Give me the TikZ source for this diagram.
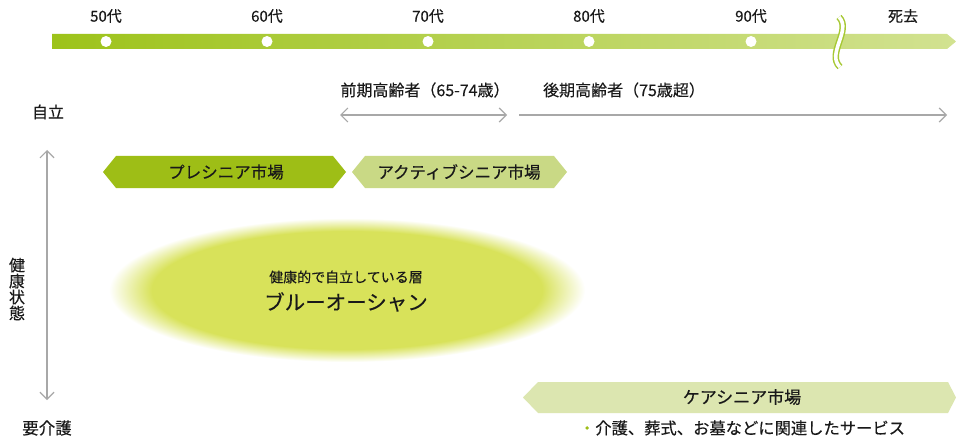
\documentclass[tikz,border=0pt]{standalone}
\usepackage{fontspec}
\setmainfont{Noto Sans CJK JP}[FakeBold=0.3]
\usetikzlibrary{arrows.meta}
\definecolor{barL}{RGB}{157,195,26}
\definecolor{barR}{RGB}{210,226,145}
\definecolor{wavec}{RGB}{166,200,50}
\definecolor{preg}{RGB}{158,190,22}
\definecolor{actg}{RGB}{201,217,133}
\definecolor{careg}{RGB}{220,230,176}
\definecolor{ocean}{RGB}{216,226,90}
\definecolor{arrg}{RGB}{168,168,168}
\definecolor{txt}{RGB}{25,25,25}
\pgfdeclareradialshading{oceanshade}{\pgfpoint{0bp}{0bp}}{color(0bp)=(ocean); color(20.5bp)=(ocean); color(25bp)=(white); color(50bp)=(white)}
\newcommand\fsz[1]{\fontsize{#1}{#1}\selectfont}
\begin{document}
\begin{tikzpicture}[x=1pt,y=-1pt,
  lbl/.style={inner sep=0pt, text=txt, font=\fsz{15.5}},
  biglbl/.style={inner sep=0pt, text=txt, font=\fsz{16.5}},
  garrow/.style={draw=arrg, line width=1.2pt, >={Straight Barb[length=7pt,width=14pt]}},
  dotc/.style={fill=white, draw=none}
]
\useasboundingbox (0,0) rectangle (956,441);
\fill[white] (0,0) rectangle (956,441);

% timeline bar
\shade[left color=barL, right color=barR] (52,34) -- (947,34) -- (956,41.5) -- (947,49) -- (52,49) -- cycle;

% age dots and labels
\foreach \x/\t [count=\i] in {106/50代,267/60代,428/70代,589/80代,751/90代}{
  \fill[dotc] (\x,41.5) circle (5.5);
  \node[lbl, font=\fsz{15}] (age\i) at (\x,16) {\t};
}
\node[lbl, font=\fsz{15}] (death) at (903,16) {死去};

% wavy break
\coordinate (w1) at (839,17);
\coordinate (w2) at (852,30);
\coordinate (w3) at (826,54);
\coordinate (w4) at (840,67);
\draw[wavec, line width=6.5pt] (w1) .. controls (w2) and (w3) .. (w4);
\draw[white, line width=3.6pt] (w1) .. controls (w2) and (w3) .. (w4);

% elderly periods
\node[lbl, font=\fsz{16}] (early) at (425,90) {前期高齢者（65-74歳）};
\node[lbl, font=\fsz{16}] (late) at (624,90) {後期高齢者（75歳超）};
\coordinate (eL) at (340,115);
\coordinate (eR) at (507,115);
\coordinate (lL) at (519,115);
\coordinate (lR) at (947,115);
\draw[garrow, <->] (eL) -- (eR);
\draw[garrow, ->] (lL) -- (lR);

% vertical axis
\node[biglbl, font=\fsz{16}] (indep) at (48,112) {自立};
\node[biglbl, font=\fsz{16.5}] (care) at (47,428) {要介護};
\node[inner sep=0pt, text=txt, font=\fsz{16}, align=center] (health) at (17,289)
  {\fontsize{16}{16.6}\selectfont 健\\康\\状\\態};
\coordinate (vT) at (47,150);
\coordinate (vB) at (47,400);
\draw[garrow, <->] (vT) -- (vB);

% banners
\fill[preg] (103,172) -- (116,156) -- (333,156) -- (346,172) -- (333,188) -- (116,188) -- cycle;
\node[biglbl] (pre) at (226,172) {プレシニア市場};
\fill[actg] (352,172) -- (365,156) -- (554,156) -- (567,172) -- (554,188) -- (365,188) -- cycle;
\node[biglbl] (active) at (459,172) {アクティブシニア市場};
\fill[careg] (523,397.5) -- (538,382) -- (948,382) -- (956,397.5) -- (948,413) -- (538,413) -- cycle;
\node[biglbl, font=\fsz{17}] (caremkt) at (742,397) {ケアシニア市場};
\node[biglbl, font=\fsz{16.3}] (services) at (742,428) {\textcolor{preg}{・}介護、葬式、お墓などに関連したサービス};

% blue ocean ellipse
\shade[shading=oceanshade] (347,290) ellipse [x radius=238, y radius=72];
\node[lbl, font=\fsz{14}] (oceansub) at (346,277) {健康的で自立している層};
\node[inner sep=0pt, text=txt, font=\fsz{20.5}] (ocean) at (346,302) {ブルーオーシャン};
\end{tikzpicture}
\end{document}
